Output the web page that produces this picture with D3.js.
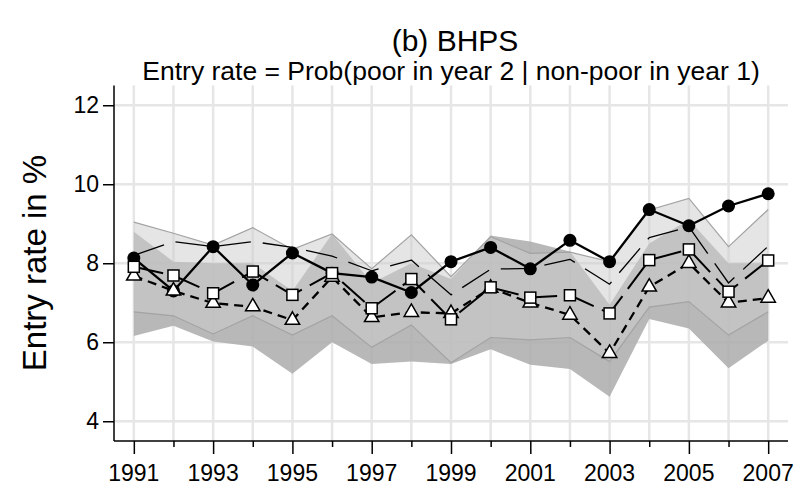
<!DOCTYPE html>
<html>
<head>
<meta charset="utf-8">
<script src="https://cdn.jsdelivr.net/npm/d3@7"></script>
<style>
    body { margin: 0; background: #fff; }
    text { font-family: "Liberation Sans", Arial, Helvetica, sans-serif; fill: #000; }
</style>
</head>
<body>
<div id="chart"></div>
<script>
// Years on the x axis
var years = [1991, 1992, 1993, 1994, 1995, 1996, 1997, 1998, 1999, 2000, 2001, 2002, 2003, 2004, 2005, 2006, 2007];
var yearLabels = [1991, 1993, 1995, 1997, 1999, 2001, 2003, 2005, 2007];
var yTicks = [4, 6, 8, 10, 12];

// Series (entry rate in %)
var circleVals = [8.13, 7.30, 8.42, 7.45, 8.26, 7.75, 7.65, 7.26, 8.04, 8.40, 7.86, 8.58, 8.04, 9.36, 8.95, 9.45, 9.76];
var squareVals = [7.91, 7.69, 7.24, 7.79, 7.20, 7.75, 6.86, 7.60, 6.58, 7.39, 7.13, 7.19, 6.73, 8.08, 8.35, 7.28, 8.07];
var triangleVals = [7.68, 7.30, 6.99, 6.90, 6.56, 7.65, 6.63, 6.76, 6.73, 7.37, 7.00, 6.69, 5.72, 7.40, 8.00, 7.00, 7.12];
var thinVals = [8.20, 8.55, 8.42, 8.55, 8.40, 8.18, 7.81, 8.08, 7.20, 7.85, 7.87, 8.10, 7.47, 8.65, 8.92, 7.50, 8.43];

// Two confidence bands
var bandAUpper = [9.04, 8.76, 8.46, 8.90, 8.35, 8.74, 7.86, 8.72, 7.66, 8.67, 8.25, 8.28, 8.04, 9.35, 9.64, 8.42, 9.36];
var bandALower = [6.77, 6.67, 6.21, 6.67, 6.18, 6.67, 5.87, 6.44, 5.48, 6.12, 6.06, 6.12, 5.51, 6.89, 7.03, 6.18, 6.77];
var bandBUpper = [8.80, 8.04, 8.00, 8.00, 7.30, 8.74, 7.50, 8.00, 7.60, 8.70, 8.55, 8.30, 6.95, 8.50, 9.10, 8.00, 8.00];
var bandBLower = [6.16, 6.42, 6.02, 5.89, 5.20, 6.00, 5.45, 5.51, 5.45, 5.82, 5.43, 5.32, 4.62, 6.59, 6.35, 5.34, 6.04];

var width = 801, height = 491;
var plot = { left: 114, right: 788, top: 85.5, bottom: 441 };

var svg = d3.select("#chart")
    .append("svg")
    .attr("width", width)
    .attr("height", height);

var x = d3.scaleLinear().domain([1990.5, 2007.5]).range([plot.left, plot.right]);
var y = d3.scaleLinear().domain([3.5, 12.5]).range([plot.bottom, plot.top]);

// Grid lines
svg.append("g").selectAll("line.hgrid")
    .data(yTicks).enter().append("line")
    .attr("x1", plot.left).attr("x2", plot.right)
    .attr("y1", function (d) { return y(d); }).attr("y2", function (d) { return y(d); })
    .attr("stroke", "#e6e6e6").attr("stroke-width", 2.5);

svg.append("g").selectAll("line.vgrid")
    .data(years).enter().append("line")
    .attr("x1", function (d) { return x(d); }).attr("x2", function (d) { return x(d); })
    .attr("y1", plot.top).attr("y2", plot.bottom)
    .attr("stroke", "#e6e6e6").attr("stroke-width", 2.5);

// Bands
function band(upper, lower) {
    return d3.area()
        .x(function (d, i) { return x(years[i]); })
        .y0(function (d, i) { return y(lower[i]); })
        .y1(function (d, i) { return y(upper[i]); })(years);
}

svg.append("path")
    .attr("d", band(bandBUpper, bandBLower))
    .attr("fill", "#acacac")
    .attr("fill-opacity", 0.85);

svg.append("path")
    .attr("d", band(bandAUpper, bandALower))
    .attr("fill", "#cdcdcd")
    .attr("fill-opacity", 0.52);

var outline = d3.line()
    .x(function (d, i) { return x(years[i]); })
    .y(function (d) { return y(d); });

[bandAUpper, bandALower].forEach(function (edge) {
    svg.append("path")
        .attr("d", outline(edge))
        .attr("fill", "none")
        .attr("stroke", "#a3a3a3")
        .attr("stroke-width", 1.2);
});

// Lines
function drawLine(vals, width, dash) {
    svg.append("path")
        .attr("d", outline(vals))
        .attr("fill", "none")
        .attr("stroke", "#000")
        .attr("stroke-width", width)
        .attr("stroke-dasharray", dash)
        .attr("stroke-linejoin", "round");
}

drawLine(thinVals, 1.3, "32,12");

drawLine(circleVals, 2.3, null);
svg.append("g").selectAll("circle")
    .data(circleVals).enter().append("circle")
    .attr("cx", function (d, i) { return x(years[i]); })
    .attr("cy", function (d) { return y(d); })
    .attr("r", 6.5)
    .attr("fill", "#000");

drawLine(triangleVals, 2.3, "9,6");
svg.append("g").selectAll("path.tri")
    .data(triangleVals).enter().append("path")
    .attr("d", d3.symbol().type(d3.symbolTriangle).size(90))
    .attr("transform", function (d, i) { return "translate(" + x(years[i]) + "," + y(d) + ")"; })
    .attr("fill", "#fff")
    .attr("stroke", "#000")
    .attr("stroke-width", 1.5);

drawLine(squareVals, 2, "30,9");
svg.append("g").selectAll("rect")
    .data(squareVals).enter().append("rect")
    .attr("x", function (d, i) { return x(years[i]) - 5.5; })
    .attr("y", function (d) { return y(d) - 5.5; })
    .attr("width", 11).attr("height", 11)
    .attr("fill", "#fff")
    .attr("stroke", "#000")
    .attr("stroke-width", 1.5);

// Axes
var yAxis = svg.append("g")
    .attr("transform", "translate(" + plot.left + ",0)")
    .call(d3.axisLeft(y).tickValues(yTicks).tickSize(11).tickPadding(4).tickFormat(d3.format("d")));
yAxis.select(".domain").attr("d", "M0," + plot.top + "V" + plot.bottom).attr("stroke-width", 1.5);
yAxis.selectAll(".tick line").attr("stroke-width", 1.5);
yAxis.selectAll("text").style("font-size", "23px");

var xAxis = svg.append("g")
    .attr("transform", "translate(0," + plot.bottom + ")")
    .call(d3.axisBottom(x).tickValues(years).tickSize(6).tickFormat(""));
xAxis.select(".domain").attr("d", "M" + plot.left + ",0H" + plot.right).attr("stroke-width", 1.5);
xAxis.selectAll(".tick line").attr("stroke-width", 1.5)
    .attr("y2", function (d) { return yearLabels.indexOf(d) >= 0 ? 13 : 6; });

svg.append("g").selectAll("text.xlab")
    .data(yearLabels).enter().append("text")
    .attr("x", function (d) { return x(d); })
    .attr("y", 481)
    .attr("text-anchor", "middle")
    .style("font-size", "23px")
    .text(function (d) { return d; });

// Titles
svg.append("text")
    .attr("x", 455).attr("y", 51)
    .attr("text-anchor", "middle")
    .style("font-size", "30px")
    .text("(b) BHPS");

svg.append("text")
    .attr("x", 451).attr("y", 80)
    .attr("text-anchor", "middle")
    .style("font-size", "26.5px")
    .text("Entry rate = Prob(poor in year 2 | non-poor in year 1)");

svg.append("text")
    .attr("transform", "translate(46,263) rotate(-90)")
    .attr("text-anchor", "middle")
    .style("font-size", "33px")
    .text("Entry rate in %");
</script>
</body>
</html>
